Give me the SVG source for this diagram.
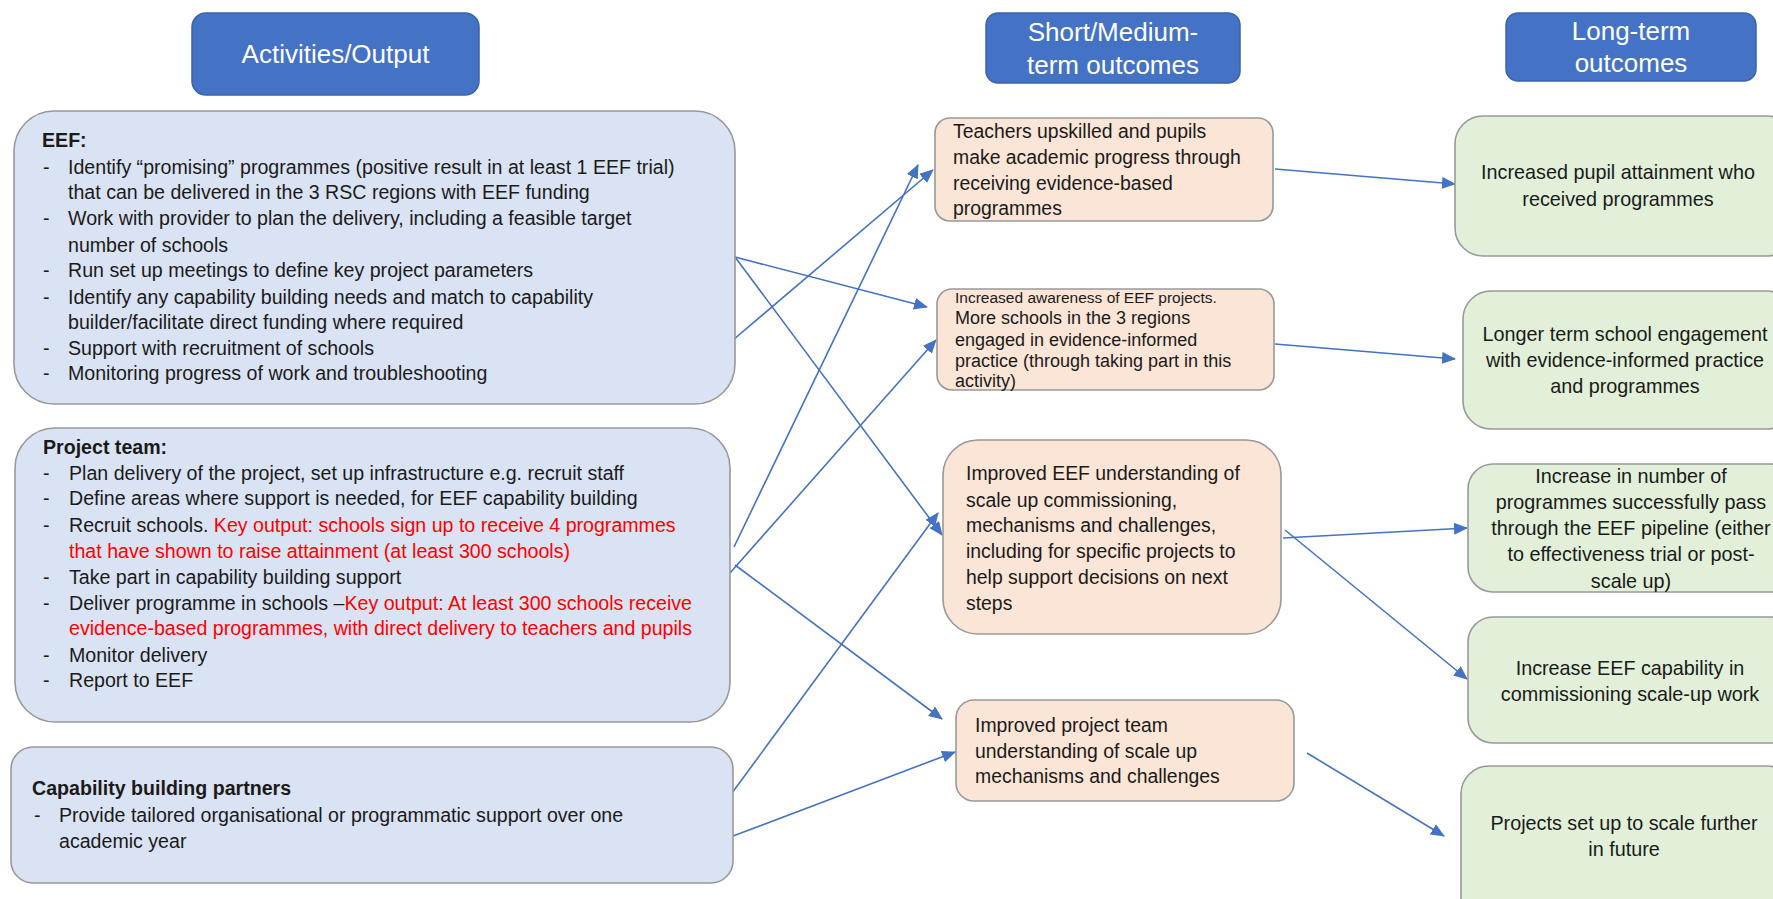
<svg xmlns="http://www.w3.org/2000/svg" width="1773" height="899" viewBox="0 0 1773 899">
<defs>
<style>
text{font-family:"Liberation Sans",Arial,sans-serif;fill:#1a1a1a;}
.hdr rect{fill:#4472C4;stroke:#3A63AD;stroke-width:1.5;}
.hdr text{fill:#ffffff;font-size:26px;text-anchor:middle;}
.act rect{fill:#DAE3F3;stroke:#999999;stroke-width:1.6;}
.mid rect{fill:#FBE5D6;stroke:#999999;stroke-width:1.6;}
.lng rect{fill:#E2F0D9;stroke:#999999;stroke-width:1.6;}
.b{font-size:19.6px;}
.lng .b{font-size:19.8px;}
.mid .b{font-size:19.4px;}
.bold{font-weight:bold;}
.red{fill:#FF0000;}
.c{text-anchor:middle;}
#connectors line{stroke:#4472C4;stroke-width:1.6;marker-end:url(#arr);}
</style>
<marker id="arr" markerUnits="userSpaceOnUse" markerWidth="14" markerHeight="12" viewBox="0 0 14 12" refX="13" refY="6" orient="auto">
<path d="M0,0 L14,6 L0,12 z" fill="#4472C4"/>
</marker>
</defs>
<rect width="1773" height="899" fill="#ffffff"/>

<g id="hdr-activities" class="hdr">
<rect x="192" y="13" width="287" height="82" rx="14"/>
<text x="335.5" y="63">Activities/Output</text>
</g>
<g id="hdr-short" class="hdr">
<rect x="986" y="13" width="254" height="70" rx="12"/>
<text x="1113" y="41">Short/Medium-</text>
<text x="1113" y="74">term outcomes</text>
</g>
<g id="hdr-long" class="hdr">
<rect x="1506" y="13" width="250" height="68" rx="12"/>
<text x="1631" y="40">Long-term</text>
<text x="1631" y="72">outcomes</text>
</g>

<g id="connectors">
<line x1="735" y1="257" x2="927" y2="307"/>
<line x1="735" y1="257" x2="942" y2="535"/>
<line x1="733" y1="340" x2="933" y2="170"/>
<line x1="734" y1="547" x2="918" y2="165"/>
<line x1="730" y1="573" x2="936" y2="340"/>
<line x1="735" y1="565" x2="942" y2="719"/>
<line x1="732" y1="793" x2="938" y2="513"/>
<line x1="733" y1="836" x2="955" y2="752"/>
<line x1="1275" y1="169" x2="1455" y2="184"/>
<line x1="1275" y1="344" x2="1455" y2="359"/>
<line x1="1283" y1="538" x2="1467" y2="528"/>
<line x1="1285" y1="530" x2="1467" y2="679"/>
<line x1="1307" y1="753" x2="1444" y2="836"/>
</g>

<g id="eef" class="act">
<rect x="14" y="111" width="721" height="293" rx="40"/>
<text class="b bold" x="42" y="147">EEF:</text>
<text class="b" x="43" y="174">-</text><text class="b" x="68" y="174">Identify “promising” programmes (positive result in at least 1 EEF trial)</text>
<text class="b" x="68" y="199">that can be delivered in the 3 RSC regions with EEF funding</text>
<text class="b" x="43" y="225">-</text><text class="b" x="68" y="225">Work with provider to plan the delivery, including a feasible target</text>
<text class="b" x="68" y="252">number of schools</text>
<text class="b" x="43" y="277">-</text><text class="b" x="68" y="277">Run set up meetings to define key project parameters</text>
<text class="b" x="43" y="304">-</text><text class="b" x="68" y="304">Identify any capability building needs and match to capability</text>
<text class="b" x="68" y="329">builder/facilitate direct funding where required</text>
<text class="b" x="43" y="355">-</text><text class="b" x="68" y="355">Support with recruitment of schools</text>
<text class="b" x="43" y="380">-</text><text class="b" x="68" y="380">Monitoring progress of work and troubleshooting</text>
</g>

<g id="project-team" class="act">
<rect x="15" y="428" width="715" height="294" rx="40"/>
<text class="b bold" x="43" y="454">Project team:</text>
<text class="b" x="43" y="480">-</text><text class="b" x="69" y="480">Plan delivery of the project, set up infrastructure e.g. recruit staff</text>
<text class="b" x="43" y="505">-</text><text class="b" x="69" y="505">Define areas where support is needed, for EEF capability building</text>
<text class="b" x="43" y="532">-</text><text class="b" x="69" y="532">Recruit schools. <tspan class="red">Key output: schools sign up to receive 4 programmes</tspan></text>
<text class="b red" x="69" y="558">that have shown to raise attainment (at least 300 schools)</text>
<text class="b" x="43" y="584">-</text><text class="b" x="69" y="584">Take part in capability building support</text>
<text class="b" x="43" y="610">-</text><text class="b" x="69" y="610">Deliver programme in schools –<tspan class="red">Key output: At least 300 schools receive</tspan></text>
<text class="b red" x="69" y="635">evidence-based programmes, with direct delivery to teachers and pupils</text>
<text class="b" x="43" y="662">-</text><text class="b" x="69" y="662">Monitor delivery</text>
<text class="b" x="43" y="687">-</text><text class="b" x="69" y="687">Report to EEF</text>
</g>

<g id="capability" class="act">
<rect x="11" y="747" width="722" height="136" rx="22"/>
<text class="b bold" x="32" y="795">Capability building partners</text>
<text class="b" x="34" y="822">-</text><text class="b" x="59" y="822">Provide tailored organisational or programmatic support over one</text>
<text class="b" x="59" y="848">academic year</text>
</g>

<g id="teachers" class="mid">
<rect x="935" y="118" width="338" height="103" rx="15"/>
<text class="b" x="953" y="138">Teachers upskilled and pupils</text>
<text class="b" x="953" y="164">make academic progress through</text>
<text class="b" x="953" y="190">receiving evidence-based</text>
<text class="b" x="953" y="215">programmes</text>
</g>

<g id="awareness" class="mid">
<rect x="937" y="289" width="337" height="101" rx="15"/>
<text x="955" y="303" font-size="15.5">Increased awareness of EEF projects.</text>
<text x="955" y="324" font-size="18">More schools in the 3 regions</text>
<text x="955" y="346" font-size="18">engaged in evidence-informed</text>
<text x="955" y="367" font-size="18">practice (through taking part in this</text>
<text x="955" y="387" font-size="18">activity)</text>
</g>

<g id="eef-understanding" class="mid">
<rect x="943" y="440" width="338" height="194" rx="35"/>
<text class="b" x="966" y="480">Improved EEF understanding of</text>
<text class="b" x="966" y="507">scale up commissioning,</text>
<text class="b" x="966" y="532">mechanisms and challenges,</text>
<text class="b" x="966" y="558">including for specific projects to</text>
<text class="b" x="966" y="584">help support decisions on next</text>
<text class="b" x="966" y="610">steps</text>
</g>

<g id="team-understanding" class="mid">
<rect x="956" y="700" width="338" height="101" rx="18"/>
<text class="b" x="975" y="732">Improved project team</text>
<text class="b" x="975" y="758">understanding of scale up</text>
<text class="b" x="975" y="783">mechanisms and challenges</text>
</g>

<g id="attainment" class="lng">
<rect x="1455" y="116" width="340" height="140" rx="28"/>
<text class="b c" x="1618" y="179">Increased pupil attainment who</text>
<text class="b c" x="1618" y="206">received programmes</text>
</g>

<g id="engagement" class="lng">
<rect x="1463" y="291" width="332" height="138" rx="28"/>
<text class="b c" x="1625" y="341">Longer term school engagement</text>
<text class="b c" x="1625" y="367">with evidence-informed practice</text>
<text class="b c" x="1625" y="393">and programmes</text>
</g>

<g id="pipeline" class="lng">
<rect x="1468" y="464" width="327" height="128" rx="25"/>
<text class="b c" x="1631" y="483">Increase in number of</text>
<text class="b c" x="1631" y="509">programmes successfully pass</text>
<text class="b c" x="1631" y="535">through the EEF pipeline (either</text>
<text class="b c" x="1631" y="561">to effectiveness trial or post-</text>
<text class="b c" x="1631" y="588">scale up)</text>
</g>

<g id="capability-outcome" class="lng">
<rect x="1468" y="617" width="327" height="126" rx="25"/>
<text class="b c" x="1630" y="675">Increase EEF capability in</text>
<text class="b c" x="1630" y="701">commissioning scale-up work</text>
</g>

<g id="scale-further" class="lng">
<rect x="1461" y="766" width="334" height="160" rx="28"/>
<text class="b c" x="1624" y="830">Projects set up to scale further</text>
<text class="b c" x="1624" y="856">in future</text>
</g>
</svg>
